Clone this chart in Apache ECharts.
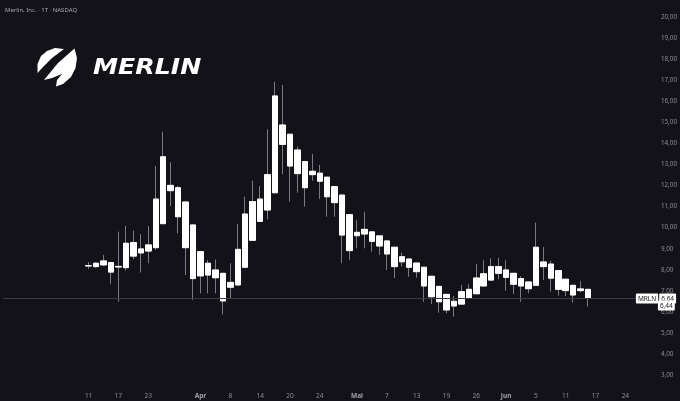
<!DOCTYPE html>
<html>
<head>
<meta charset="utf-8">
<script src="https://cdn.jsdelivr.net/npm/echarts@6/dist/echarts.min.js"></script>
<style>
html,body{margin:0;padding:0;background:#121218;}
#main{width:680px;height:401px;}
</style>
</head>
<body>
<div id="main"></div>
<script>
// daily candles, Merlin Inc. (MRLN)
var openVals  = [8.18,8.15,8.23,8.34,8.13,8.10,9.29,8.80,8.89,9.05,10.19,12.01,11.90,11.22,10.13,8.86,8.31,7.99,7.83,7.17,
                 7.28,8.12,9.40,10.30,10.84,11.66,14.88,14.44,13.69,13.14,12.52,12.59,12.40,11.95,11.55,10.62,9.62,9.70,9.80,9.61,
                 9.37,9.07,8.38,8.51,8.32,8.12,7.69,7.21,6.83,6.28,6.37,6.64,6.86,7.23,7.51,7.83,7.99,7.83,7.58,7.42,
                 7.26,8.37,8.27,7.96,7.55,7.26,7.01,7.07];
var closeVals = [8.20,8.31,8.42,7.89,8.16,9.26,8.65,8.99,9.18,11.36,13.37,11.76,10.52,9.05,7.58,7.71,7.75,7.62,6.52,7.40,
                 8.97,10.65,11.24,11.36,12.52,16.26,13.96,12.93,12.57,11.90,12.68,12.21,11.47,11.19,9.65,8.91,9.78,9.92,9.35,9.13,
                 8.75,8.15,8.62,8.12,7.91,7.23,6.72,6.48,6.09,6.50,6.96,7.07,7.61,7.81,8.15,8.15,7.64,7.31,7.23,7.10,
                 9.07,8.15,7.60,7.07,7.01,6.80,7.09,6.64];
var lowVals   = [8.04,8.09,8.18,7.32,6.48,7.96,8.50,7.87,8.31,8.94,10.18,11.03,9.73,7.75,6.56,6.88,6.88,6.88,5.88,6.64,
                 7.23,8.08,9.37,10.27,10.40,11.65,12.54,11.24,11.66,11.00,12.23,11.36,10.52,10.52,8.31,8.46,9.02,9.02,8.86,8.70,
                 7.99,7.60,8.15,7.67,7.62,6.48,6.37,5.96,5.93,5.77,6.35,6.62,6.84,7.21,7.49,7.55,7.00,6.85,6.48,6.88,
                 7.24,7.51,6.96,6.77,6.75,6.44,6.93,6.25];
var highVals  = [8.36,8.37,8.70,8.38,9.81,10.08,9.86,9.69,10.08,12.93,14.56,13.11,11.98,11.25,10.15,8.90,8.46,8.49,7.85,8.31,
                 10.18,11.47,12.23,11.98,14.68,16.94,16.78,14.45,13.85,13.16,13.50,12.98,12.42,11.97,11.57,10.64,10.37,10.76,9.82,9.63,
                 9.39,9.09,8.81,8.53,8.34,8.14,7.71,7.23,6.85,6.75,7.28,7.32,8.27,8.46,8.55,8.57,8.46,7.85,7.70,7.44,
                 10.24,9.08,8.43,7.98,7.57,7.28,7.47,7.09];

// date labels under the candles (index = candle number, may run past the last candle)
var tickIndex = [0,4,8,15,19,23,27,31,36,40,44,48,52,56,60,64,68,72];
var tickText  = ['11','17','23','Apr','8','14','20','24','Mai','7','13','19','26','Jun','5','11','17','24'];
var monthTicks = ['Apr','Mai','Jun'];

var lastPrice = 6.64;
var secondPrice = 6.44;

var padBefore = 11, padAfter = 9;

var categories = [], wickData = [], bodyData = [];
var total = padBefore + openVals.length + padAfter;
for (var i = 0; i < total; i++) {
	categories.push(String(i));
	var d = i - padBefore;
	if (d >= 0 && d < openVals.length) {
		wickData.push([openVals[d], closeVals[d], lowVals[d], highVals[d]]);
		bodyData.push([openVals[d], closeVals[d], Math.min(openVals[d], closeVals[d]), Math.max(openVals[d], closeVals[d])]);
	} else {
		wickData.push('-');
		bodyData.push('-');
	}
}

function fmt(v) { return v.toFixed(2).replace('.', ','); }

var boxStyle = {backgroundColor:'#ffffff', color:'#1a1a20', fontSize:6.5, fontFamily:'Noto Sans', padding:[2,2,1,2], borderRadius:1};

var chart = echarts.init(document.getElementById('main'));
var option = {
	backgroundColor: '#121218',
	animation: false,
	title: {
		text: 'Merlin, Inc. · 1T · NASDAQ',
		left: 0, top: 2,
		textStyle: {color:'#a8a8b0', fontSize:6, fontWeight:'normal', fontFamily:'Noto Sans'}
	},
	graphic: [
		// logo watermark
		{type:'polygon', shape:{points:[[37.5,73],[37.5,64],[41,56],[47,51],[55,48],[64,49],[52,58],[44,66]]}, style:{fill:'#ffffff'}},
		{type:'polygon', shape:{points:[[74.5,48.5],[77,58],[75.5,68],[71,77],[63,84],[56,86.5],[57,80],[62,74],[52,78],[44,80],[58,63]]}, style:{fill:'#ffffff'}},
		{type:'text', x:93, y:69, scaleX:1.2, style:{text:'MERLIN', fill:'#ffffff', fontSize:21, fontWeight:900, fontStyle:'italic', fontFamily:'DejaVu Sans', textVerticalAlign:'middle'}}
	],
	grid: {left:3, right:20, top:0, bottom:15.5},
	xAxis: {
		type: 'category',
		data: categories,
		boundaryGap: true,
		axisLine: {show:false},
		axisTick: {show:false},
		splitLine: {show:false},
		axisLabel: {
			interval: 0,
			margin: 7,
			color: '#8e8e96',
			fontSize: 6.5,
			fontFamily: 'Noto Sans',
			formatter: function (val, idx) {
				var k = tickIndex.indexOf(idx - padBefore);
				if (k < 0) return '';
				var t = tickText[k];
				return monthTicks.indexOf(t) >= 0 ? '{m|' + t + '}' : t;
			},
			rich: {m: {fontWeight:'bold', color:'#a0a0a8', fontSize:6.5, fontFamily:'Noto Sans'}}
		}
	},
	yAxis: {
		type: 'value',
		position: 'right',
		min: 2.5,
		max: 20.82,
		interval: 0.5,
		axisLine: {show:false},
		axisTick: {show:false},
		splitLine: {show:false},
		axisLabel: {
			margin: 2,
			color: '#8e8e96',
			fontSize: 6.3,
			fontFamily: 'Noto Sans',
			formatter: function (v) {
				if (Math.abs(v - Math.round(v)) > 1e-6 || v < 3 || v > 20) return '';
				return fmt(v);
			}
		}
	},
	series: [
		{
			// wicks (grey)
			type: 'candlestick',
			data: wickData,
			barWidth: 6,
			silent: true,
			itemStyle: {color:'#7a7a82', color0:'#7a7a82', borderColor:'#7a7a82', borderColor0:'#7a7a82', borderColorDoji:'#7a7a82', borderWidth:1}
		},
		{
			// bodies (white)
			type: 'candlestick',
			data: bodyData,
			barWidth: 6,
			silent: true,
			itemStyle: {color:'#ffffff', color0:'#ffffff', borderColor:'#ffffff', borderColor0:'#ffffff', borderColorDoji:'#ffffff', borderWidth:1},
			markLine: {
				symbol: ['none','none'],
				silent: true,
				data: [
					{
						yAxis: lastPrice,
						lineStyle: {color:'#3a3a42', width:1, type:'solid'},
						label: {
							position: 'end',
							distance: -23,
							formatter: '{n|MRLN}{g|}{p|' + fmt(lastPrice) + '}',
							rich: {n: boxStyle, g: {width:1}, p: boxStyle}
						}
					},
					{
						yAxis: secondPrice,
						lineStyle: {color:'rgba(0,0,0,0)', width:0},
						label: {
							show: true,
							position: 'end',
							distance: -1,
							offset: [0, 3],
							formatter: '{p|' + fmt(secondPrice) + '}',
							rich: {p: boxStyle}
						}
					}
				]
			}
		}
	]
};
chart.setOption(option);
</script>
</body>
</html>
